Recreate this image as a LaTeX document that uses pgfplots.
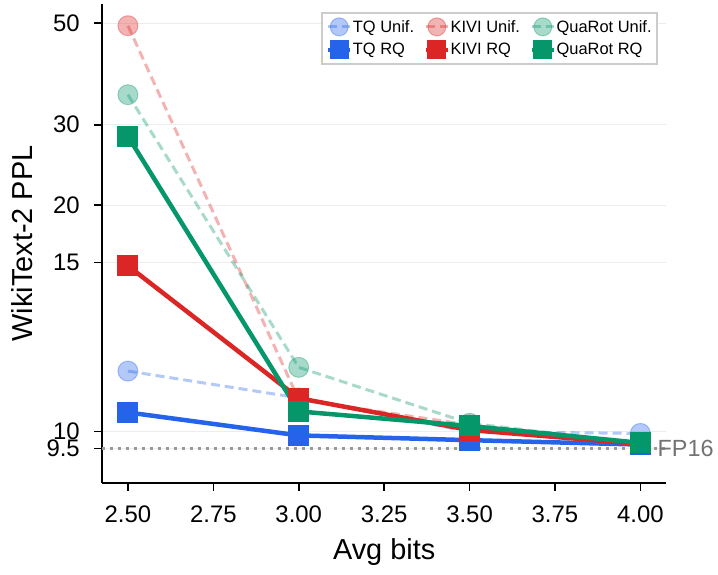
\documentclass[border=0pt]{standalone}
\usepackage{fontspec}
\setmainfont{Liberation Sans}
\usepackage{pgfplots}
\pgfplotsset{compat=1.18}
\definecolor{tqblue}{HTML}{2563EB}
\definecolor{kivired}{HTML}{DC2626}
\definecolor{qrgreen}{HTML}{059669}
\begin{document}
\begin{tikzpicture}
\path[use as bounding box] (-102.3bp,-92.3bp) rectangle (615.7bp,482.7bp);
\begin{axis}[
  at={(0,0)}, anchor=south west,
  scale only axis, width=563.7bp, height=478.7bp,
  xmin=2.425, xmax=4.075,
  ymin=8.494, ymax=55.1,
  y coord trafo/.code={\pgfmathparse{(#1<=15) ? (#1/0.9) : (15*(1/0.9+ln(#1/15)/ln(10)))}},
  y coord inv trafo/.code={\pgfmathparse{(#1<=16.6667) ? (#1*0.9) : (15*10^(#1/15-1/0.9))}},
  axis x line*=bottom, axis y line*=left,
  axis line style={line width=1.8bp, black},
  tick align=outside, major tick length=8bp,
  tick style={line width=1.6bp, black},
  xtick={2.5,2.75,3,3.25,3.5,3.75,4},
  xticklabel style={yshift=-12bp, /pgf/number format/.cd, fixed, fixed zerofill, precision=2},
  ytick={9.5,10,15,20,30,50},
  yticklabels={9.5,10,15,20,30,50},
  minor tick num=0,
  /pgf/number format/assume math mode=true,
  tick label style={font=\fontsize{24}{28}\selectfont},
  yticklabel style={xshift=-11bp},
  ymajorgrids, grid style={line width=0.8bp, black!7},
  xlabel={Avg bits}, ylabel={WikiText-2 PPL},
  xlabel style={at={(axis description cs:0.5,-0.145)}, anchor=center, font=\fontsize{29}{34}\selectfont},
  ylabel style={at={(axis description cs:-0.142,0.5)}, anchor=center, font=\fontsize{29}{34}\selectfont},
  clip=false,
  legend columns=3,
  legend cell align=left,
  legend style={at={(rel axis cs:0.9858,0.9833)}, anchor=north east,
    draw=black!20, line width=1.8bp, fill=white,
    font=\fontsize{16.5}{19}\selectfont,
    nodes={inner sep=1.5bp},
    inner xsep=4bp, inner ysep=5bp, row sep=5bp,
    /tikz/every even column/.append style={column sep=8bp},
    /tikz/every odd column/.append style={column sep=-1bp}},
  legend image code/.code={\draw[mark repeat=2,mark phase=2] plot coordinates {(0bp,0bp) (11bp,0bp) (22bp,0bp)};},
  legend image post style={mark size=9bp},
]
% FP16 reference
\addplot[forget plot, black!40, line width=2.5bp, dash pattern=on 2.5bp off 5.5bp] coordinates {(2.425,9.5) (4.075,9.5)};
\node[anchor=west, inner sep=0pt, text=black!55, font=\fontsize{23.5}{27}\selectfont] at (axis cs:4.05,9.5) {FP16};
% Uniform
\addplot[tqblue, opacity=0.35, line width=3bp, dash pattern=on 9bp off 5bp, mark=*, mark size=10bp, mark options={solid, line width=1bp}]
  coordinates {(2.5,11.79) (3.0,11.0) (3.5,10.0) (4.0,9.95)};
\addlegendentry{TQ Unif.}
\addplot[kivired, opacity=0.35, line width=3bp, dash pattern=on 9bp off 5bp, mark=*, mark size=10bp, mark options={solid, line width=1bp}]
  coordinates {(2.5,49.4) (3.0,10.95) (3.5,10.2) (4.0,9.65)};
\addlegendentry{KIVI Unif.}
\addplot[qrgreen, opacity=0.35, line width=3bp, dash pattern=on 9bp off 5bp, mark=*, mark size=10bp, mark options={solid, line width=1bp}]
  coordinates {(2.5,34.9) (3.0,11.9) (3.5,10.25) (4.0,9.65)};
\addlegendentry{QuaRot Unif.}
% RQ
\addplot[tqblue, line width=4.5bp, mark=square*, mark size=10bp, mark options={solid, line width=0pt}]
  coordinates {(2.5,10.57) (3.0,9.89) (3.5,9.75) (4.0,9.62)};
\addlegendentry{TQ RQ}
\addplot[kivired, line width=4.5bp, mark=square*, mark size=10bp, mark options={solid, line width=0pt}]
  coordinates {(2.5,14.9) (3.0,10.99) (3.5,10.05) (4.0,9.64)};
\addlegendentry{KIVI RQ}
\addplot[qrgreen, line width=4.5bp, mark=square*, mark size=10bp, mark options={solid, line width=0pt}]
  coordinates {(2.5,28.3) (3.0,10.6) (3.5,10.17) (4.0,9.67)};
\addlegendentry{QuaRot RQ}
\end{axis}
\end{tikzpicture}
\end{document}
